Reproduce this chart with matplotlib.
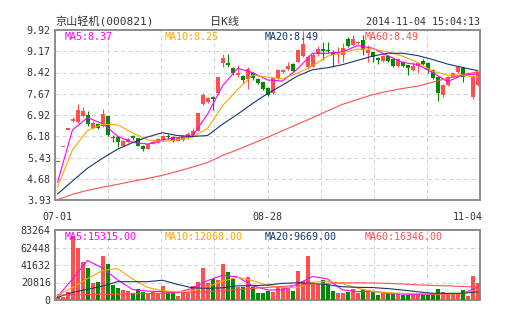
import numpy as np
import matplotlib.pyplot as plt

plt.rcParams['font.family'] = ['DejaVu Sans Mono', 'Noto Sans CJK SC']

# ---- data ----
stock_name = "京山轻机(000821)"
kline_name = "日K线"
stamp = "2014-11-04 15:04:13"
date_labels = ["07-01", "08-28", "11-04"]
date_index = [0, 42, 84]

opens = [5.26, 5.79, 6.40, 6.72, 6.69, 6.90, 6.91, 6.47, 6.60, 6.55,
         6.89, 6.16, 6.14, 5.84, 5.97, 6.18, 6.11, 5.85, 5.73, 5.92,
         5.95, 6.03, 6.20, 6.14, 6.02, 6.04, 6.10, 6.21, 6.37, 7.31,
         7.38, 7.55, 7.69, 8.75, 8.75, 8.57, 8.32, 8.31, 8.18, 8.39,
         8.18, 8.08, 7.87, 7.69, 8.22, 8.45, 8.53, 8.71, 8.80, 9.00,
         8.63, 8.63, 9.07, 9.24, 9.22, 9.16, 9.07, 9.04, 9.59, 9.39,
         9.45, 9.57, 9.12, 9.16, 8.92, 8.84, 9.00, 8.89, 8.65, 8.80,
         8.69, 8.51, 8.65, 8.83, 8.75, 8.51, 8.28, 7.63, 7.98, 8.28,
         8.45, 8.59, 8.37, 7.57, 7.98]
closes = [5.26, 5.79, 6.40, 6.80, 7.10, 7.07, 6.60, 6.65, 6.47, 6.96,
          6.22, 6.10, 5.96, 6.01, 6.08, 6.10, 5.84, 5.72, 5.90, 5.99,
          6.08, 6.19, 6.15, 6.02, 6.14, 6.19, 6.26, 6.37, 6.98, 7.63,
          7.52, 7.50, 8.25, 8.92, 8.70, 8.39, 8.42, 8.16, 8.53, 8.22,
          8.04, 7.83, 7.63, 8.22, 8.51, 8.51, 8.65, 8.49, 9.22, 9.43,
          8.98, 9.04, 9.25, 9.19, 9.18, 9.04, 9.12, 9.27, 9.36, 9.59,
          9.51, 9.22, 9.22, 8.96, 8.86, 9.00, 8.84, 8.65, 8.89, 8.65,
          8.57, 8.65, 8.77, 8.71, 8.51, 8.22, 7.69, 7.98, 8.28, 8.39,
          8.63, 8.28, 8.42, 8.30, 8.45]
highs = [5.26, 5.79, 6.40, 6.85, 7.31, 7.19, 7.07, 6.70, 6.65, 7.14,
         6.90, 6.22, 6.20, 6.05, 6.10, 6.22, 6.13, 5.87, 5.92, 6.02,
         6.10, 6.22, 6.26, 6.18, 6.16, 6.22, 6.34, 6.48, 6.99, 7.71,
         7.55, 7.58, 8.27, 9.07, 9.07, 8.60, 8.69, 8.35, 8.60, 8.43,
         8.22, 8.10, 7.90, 8.25, 8.55, 8.55, 8.80, 8.74, 9.25, 9.90,
         9.05, 9.10, 9.35, 9.51, 9.51, 9.22, 9.33, 9.45, 9.69, 9.74,
         9.54, 9.74, 9.39, 9.16, 8.98, 9.03, 9.03, 8.92, 8.92, 8.83,
         8.69, 8.80, 8.80, 8.89, 8.78, 8.53, 8.30, 8.00, 8.30, 8.42,
         8.66, 8.63, 8.45, 8.33, 8.48]
lows = [5.26, 5.79, 6.40, 6.68, 6.65, 6.85, 6.55, 6.42, 6.43, 6.50,
        6.20, 5.99, 5.81, 5.82, 5.95, 6.06, 5.82, 5.67, 5.71, 5.90,
        5.93, 6.01, 6.08, 5.96, 6.00, 6.02, 6.08, 6.19, 6.35, 7.28,
        7.35, 7.10, 7.67, 8.62, 8.62, 8.35, 8.28, 8.05, 7.83, 8.15,
        8.00, 7.80, 7.58, 7.65, 8.18, 8.42, 8.50, 8.45, 8.78, 8.97,
        8.55, 8.60, 9.02, 8.86, 9.10, 8.63, 8.75, 8.80, 9.33, 9.36,
        9.42, 9.04, 8.80, 8.80, 8.72, 8.80, 8.80, 8.62, 8.62, 8.62,
        8.33, 8.48, 8.39, 8.68, 8.39, 8.20, 7.43, 7.57, 7.95, 8.25,
        8.42, 8.10, 8.34, 7.50, 7.95]
volumes = [4000, 3200, 9100, 76000, 62200, 45600, 38500, 20600, 21800, 52300,
           43200, 17800, 14700, 11900, 11100, 8700, 12700, 9900, 8700, 9900,
           8700, 16700, 9900, 9900, 4800, 7900, 7900, 16700, 21800, 37700,
           19800, 24600, 23800, 42800, 33300, 24600, 15100, 15100, 27800, 15100,
           8700, 8700, 11100, 9900, 15900, 13900, 15100, 11100, 34500, 22600,
           52300, 19800, 19800, 23800, 17800, 11100, 7900, 7900, 9900, 12700,
           8700, 12700, 11900, 11100, 6000, 7900, 7900, 7100, 7900, 6000,
           6000, 7900, 8700, 6000, 6000, 6000, 13100, 9900, 7100, 7100,
           7100, 11900, 5200, 28000, 20000]

# moving averages read every third session
ma_index = list(range(0, 85, 3))
ma5 = [4.55, 6.40, 6.83, 6.62, 6.18, 5.96, 5.90, 6.05, 6.13, 6.19,
       6.95, 7.95, 8.57, 8.42, 8.16, 8.12, 8.55, 9.10, 9.10, 9.15,
       9.37, 9.28, 9.02, 8.78, 8.70, 8.42, 8.10, 8.33, 8.37]
ma10 = [4.38, 5.70, 6.38, 6.60, 6.58, 6.30, 6.05, 5.99, 6.05, 6.14,
        6.45, 7.25, 7.82, 8.33, 8.26, 8.20, 8.40, 8.65, 9.00, 9.12,
        9.25, 9.25, 9.15, 9.00, 8.78, 8.47, 8.33, 8.33, 8.25]
ma20 = [4.14, 4.60, 5.05, 5.40, 5.72, 5.95, 6.15, 6.30, 6.20, 6.17,
        6.20, 6.60, 6.95, 7.33, 7.68, 7.98, 8.30, 8.52, 8.59, 8.70,
        8.85, 9.00, 9.10, 9.10, 9.02, 8.88, 8.72, 8.60, 8.49]
ma60 = [3.94, 4.13, 4.27, 4.38, 4.48, 4.59, 4.69, 4.80, 4.94, 5.09,
        5.25, 5.50, 5.70, 5.92, 6.14, 6.37, 6.60, 6.83, 7.07, 7.30,
        7.47, 7.64, 7.76, 7.86, 7.94, 8.08, 8.22, 8.33, 8.45]

vma5 = [4000, 25000, 47000, 38000, 24000, 12500, 10500, 10000, 9000, 14000,
        23000, 29500, 27500, 17000, 12000, 12000, 19000, 28000, 25000, 12000,
        10000, 10500, 7800, 7000, 6800, 6500, 7600, 7500, 15315]
vma10 = [5500, 15000, 25500, 35000, 37500, 25000, 15000, 11000, 9900, 11000,
         16000, 22500, 27000, 23000, 17500, 15000, 14500, 21000, 22600, 19500,
         14000, 10000, 8700, 7900, 7600, 7200, 7100, 7600, 12068]
vma20 = [3200, 9000, 12700, 16500, 21800, 21800, 21800, 23500, 18500, 14500,
         13900, 14500, 16900, 17000, 17800, 19800, 20500, 19900, 18200, 15800,
         15070, 14800, 13600, 11900, 9800, 8000, 7900, 8000, 9669]
vma60 = [6000, 6200, 6500, 6700, 6900, 7200, 7600, 8000, 8600, 9300,
         10000, 11200, 12500, 13800, 15000, 16200, 17500, 19000, 20000, 20400,
         20500, 20300, 19800, 19000, 18000, 17300, 16800, 16000, 15500]

price_ticks = ["3.93", "4.68", "5.43", "6.18", "6.92", "7.67", "8.42", "9.17", "9.92"]
vol_ticks = ["0", "20816", "41632", "62448", "83264"]
price_labels = ["MA5:8.37", "MA10:8.25", "MA20:8.49", "MA60:8.49"]
vol_labels = ["MA5:15315.00", "MA10:12068.00", "MA20:9669.00", "MA60:16346.00"]

# ---- styles ----
RED = "#ff4f4f"
GREEN = "#008a00"
ma_colors = ["#ff00ff", "#ffa500", "#14386a", "#ff5050"]
frame = "#8c8c8c"
gridc = "#d4d4d4"
txt = "#333333"
fs = 7.2

fig = plt.figure(figsize=(5.05, 3.3), dpi=100)
ax = fig.add_axes([55 / 505, 130 / 330, 425 / 505, 170 / 330])
axv = fig.add_axes([55 / 505, 30 / 330, 425 / 505, 70 / 330])

o = np.array(opens)
c = np.array(closes)
x = np.arange(len(o))
cols = np.where(c >= o, RED, GREEN)

# candles
ax.vlines(x, lows, highs, colors=cols, lw=0.8, zorder=3)
body = np.maximum(np.abs(c - o), 0.05)
ax.bar(x, body, bottom=np.minimum(o, c), width=0.8, color=cols, linewidth=0, zorder=4)
for vals, col in zip([ma5, ma10, ma20, ma60], ma_colors):
    ax.plot(ma_index, vals, color=col, lw=0.8, zorder=5)

# volume
axv.bar(x, volumes, width=0.8, color=cols, linewidth=0, zorder=3)
for vals, col in zip([vma5, vma10, vma20, vma60], ma_colors):
    axv.plot(ma_index, vals, color=col, lw=0.8, zorder=5)

n = len(o)
for a, lo, hi, labels, texts in [(ax, 3.93, 9.92, price_ticks, price_labels),
                                 (axv, 0, 83264, vol_ticks, vol_labels)]:
    a.set_xlim(-0.5, n - 0.5)
    a.set_ylim(lo, hi)
    a.set_xticks(np.linspace(-0.5, n - 0.5, 9)[1:-1])
    a.set_xticklabels([])
    a.set_yticks(np.linspace(lo, hi, len(labels)))
    a.set_yticklabels(labels)
    a.tick_params(length=0, pad=3, labelsize=fs, labelcolor=txt)
    a.grid(True, color=gridc, lw=0.75, linestyle=(0, (4, 3)), zorder=0)
    a.set_axisbelow(True)
    for s in a.spines.values():
        s.set_color(frame)
        s.set_linewidth(1.4)
    h = a.get_window_extent().height
    w = a.get_window_extent().width
    for k, (t, col) in enumerate(zip(texts, ma_colors)):
        a.text((10 + 100 * k) / w, 1 - 7 / h, t, transform=a.transAxes,
               color=col, fontsize=fs, va='center', ha='left', zorder=10)

# date labels under the price panel
for i, (pos, lab) in enumerate(zip(date_index, date_labels)):
    ha = 'right' if i == len(date_labels) - 1 else 'center'
    xx = pos + 1.0 if ha == 'right' else pos
    ax.text(xx, -17 / 170, lab, transform=ax.get_xaxis_transform(),
            ha=ha, va='center', fontsize=fs, color=txt)

fig.text(55 / 505, 1 - 22 / 330, stock_name, fontsize=8, color=txt, va='center', ha='left')
fig.text(225 / 505, 1 - 22 / 330, kline_name, fontsize=8, color=txt, va='center', ha='center')
fig.text(480 / 505, 1 - 22 / 330, stamp, fontsize=fs, color=txt, va='center', ha='right')

fig.savefig("out.png", dpi=100)
